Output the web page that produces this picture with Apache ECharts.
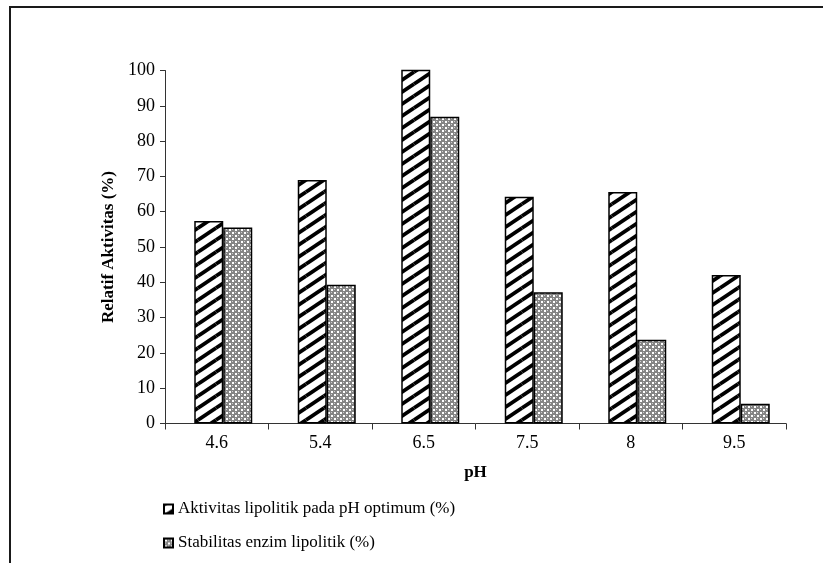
<!DOCTYPE html>
<html>
<head>
<meta charset="utf-8">
<script src="https://cdn.jsdelivr.net/npm/echarts@6/dist/echarts.min.js"></script>
<style>
  html, body { margin: 0; padding: 0; background: #fff; }
  #chart { width: 823px; height: 563px; }
</style>
</head>
<body>
<div id="chart"></div>
<script>
// pH values tested and relative activity (%) per series
const phLevels = ['4.6', '5.4', '6.5', '7.5', '8', '9.5'];
const aktivitasOptimum = [57.4, 69.0, 100.3, 64.2, 65.6, 42.1];
const stabilitasEnzim = [55.5, 39.3, 86.9, 37.2, 23.7, 5.6];
const seriesNames = ['Aktivitas lipolitik pada pH optimum (%)', 'Stabilitas enzim lipolitik (%)'];
const yTicks = { min: 0, max: 100, interval: 10 };

const serif = '"Liberation Serif", "Times New Roman", serif';

// diagonal black hatching
function stripeTile() {
  const c = document.createElement('canvas');
  c.width = 18; c.height = 12;
  const g = c.getContext('2d');
  g.fillStyle = '#fff';
  g.fillRect(0, 0, 18, 12);
  g.strokeStyle = '#000';
  g.lineWidth = 3.8;
  const segs = [[-18, 12, 0, 0], [0, 12, 18, 0], [18, 12, 36, 0], [0, 24, 18, 12], [0, 0, 18, -12]];
  segs.forEach(s => { g.beginPath(); g.moveTo(s[0], s[1]); g.lineTo(s[2], s[3]); g.stroke(); });
  return c;
}

// fine grey crosshatch with white dots
function dotTile() {
  const c = document.createElement('canvas');
  c.width = 6; c.height = 6;
  const g = c.getContext('2d');
  g.fillStyle = '#858585';
  g.fillRect(0, 0, 6, 6);
  g.fillStyle = '#ffffff';
  g.fillRect(1, 1, 2, 2);
  g.fillRect(4, 4, 2, 2);
  g.fillStyle = '#d0d0d0';
  g.fillRect(4, 1, 1, 1);
  g.fillRect(1, 4, 1, 1);
  return c;
}

const chart = echarts.init(document.getElementById('chart'), null, { renderer: 'canvas' });

const gridTop = 70.5, gridBottom = 139.5;

chart.setOption({
  animation: false,
  backgroundColor: '#fff',
  textStyle: { fontFamily: serif },
  grid: [
    { left: 165, right: 37, top: gridTop, bottom: gridBottom },
    { left: 171.5, right: 30.5, top: gridTop, bottom: gridBottom }
  ],
  xAxis: [
    {
      type: 'category', gridIndex: 0, data: phLevels,
      name: 'pH', nameLocation: 'middle', nameGap: 41,
      nameTextStyle: { fontFamily: serif, fontWeight: 'bold', fontSize: 17, color: '#000' },
      axisLine: { lineStyle: { color: '#333', width: 1 } },
      axisTick: { show: true, length: 6, lineStyle: { color: '#333' } },
      axisLabel: { fontFamily: serif, fontSize: 18, color: '#000', margin: 11 },
      splitLine: { show: false }
    },
    {
      type: 'category', gridIndex: 1, data: phLevels, show: false
    }
  ],
  yAxis: [
    {
      type: 'value', gridIndex: 0, min: yTicks.min, max: yTicks.max, interval: yTicks.interval,
      name: 'Relatif Aktivitas (%)', nameLocation: 'middle', nameGap: 37,
      nameTextStyle: { fontFamily: serif, fontWeight: 'bold', fontSize: 17, color: '#000' },
      axisLine: { show: true, lineStyle: { color: '#333', width: 1 } },
      axisTick: { show: true, length: 5, lineStyle: { color: '#333' } },
      axisLabel: { fontFamily: serif, fontSize: 18, color: '#000', margin: 10 },
      splitLine: { show: false }
    },
    {
      type: 'value', gridIndex: 1, min: yTicks.min, max: yTicks.max, interval: yTicks.interval, show: false
    }
  ],
  legend: {
    orient: 'vertical', left: 158, top: 494,
    itemWidth: 9, itemHeight: 9, itemGap: 14,
    textStyle: { fontFamily: serif, fontSize: 17, color: '#000', lineHeight: 20 },
    data: seriesNames.map(n => ({ name: n, icon: 'rect' }))
  },
  series: [
    {
      name: seriesNames[0], type: 'bar', xAxisIndex: 1, yAxisIndex: 1,
      data: aktivitasOptimum, barWidth: 29, barGap: '0%',
      itemStyle: { color: { image: stripeTile(), repeat: 'repeat' }, borderColor: '#000', borderWidth: 1.5 }
    },
    {
      name: seriesNames[1], type: 'bar', xAxisIndex: 1, yAxisIndex: 1,
      data: stabilitasEnzim, barWidth: 29, barGap: '0%',
      itemStyle: { color: { image: dotTile(), repeat: 'repeat' }, borderColor: '#000', borderWidth: 1.5 }
    }
  ],
  graphic: [
    { type: 'line', shape: { x1: 9, y1: 7, x2: 823, y2: 7 }, style: { stroke: '#1a1a1a', lineWidth: 2 } },
    { type: 'line', shape: { x1: 10, y1: 6, x2: 10, y2: 563 }, style: { stroke: '#1a1a1a', lineWidth: 2 } }
  ]
});
</script>
</body>
</html>
